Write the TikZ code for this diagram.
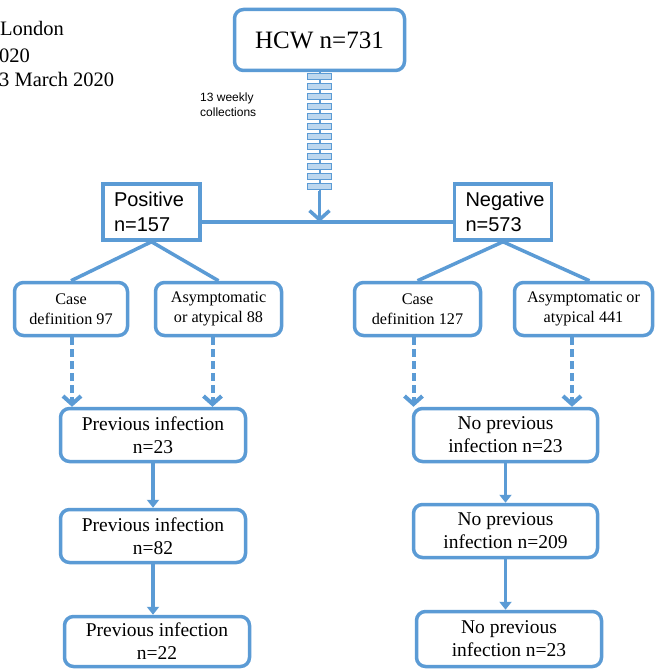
\documentclass[tikz,border=0pt]{standalone}
\usepackage{fontspec}
\setmainfont{Liberation Serif}
\setsansfont{Liberation Sans}
\usetikzlibrary{arrows.meta}
\definecolor{hblue}{RGB}{91,155,213}
\definecolor{hlight}{RGB}{189,215,238}
\begin{document}
\begin{tikzpicture}[x=1pt,y=-1pt,
  rbox/.style={draw=hblue, line width=3.5pt, rounded corners=9pt, align=center, inner sep=0pt, fill=white, minimum height=53pt},
  casefont/.style={font=\fontsize{16.2}{19.5}\selectfont},
  prevfont/.style={font=\fontsize{19.5}{23}\selectfont},
  sbox/.style={draw=hblue, line width=3.5pt, align=left, inner xsep=11pt, inner ysep=0pt, text width=75pt, minimum height=56pt, font=\sffamily\fontsize{20}{25}\selectfont},
  conn/.style={draw=hblue, line width=3.5pt},
  dasharrow/.style={draw=hblue, line width=4pt, dash pattern=on 8pt off 4pt, -{Straight Barb[length=8pt,width=18pt]}},
  bigarrow/.style={conn, -{Straight Barb[length=9pt,width=20pt]}},
  smallarrow/.style={conn, -{Triangle[length=8pt,width=12pt]}},
  wk/.style={draw=hblue, fill=hlight, line width=1.2pt, minimum width=24pt, minimum height=6pt, inner sep=0pt},
  toptext/.style={anchor=base west, inner sep=0pt, font=\fontsize{20.5}{24}\selectfont}
]
\fill[white] (0,0) rectangle (656,671);
\useasboundingbox (0,0) rectangle (656,671);

% top-left text
\node[toptext] (t1) at (0,36) {London};
\node[toptext] (t2) at (-1,63) {020};
\node[toptext] (t3) at (-1,87) {3 March 2020};

% HCW
\node[rbox, minimum width=170pt, minimum height=61pt, font=\fontsize{25}{30}\selectfont] (hcw) at (319.5,40) {HCW n=731};

% weekly collections stack
\coordinate (sb) at (319.5,191);
\coordinate (j) at (319.5,222);
\draw[hblue, line width=2pt] (hcw.south) -- (sb);
\foreach \i in {1,...,12} {
  \node[wk] (w\i) at (319.5,{76.5+10*(\i-1)}) {};
}
\node[anchor=north west, inner sep=0pt, align=left, font=\sffamily\fontsize{12}{15}\selectfont] (lab) at (200,93) {13 weekly\\collections};
\draw[bigarrow] (sb) -- (j);

% Positive / Negative
\node[sbox] (pos) at (151.5,212) {Positive\\n=157};
\node[sbox] (neg) at (503,212) {Negative\\n=573};
\draw[conn] ([yshift=-10pt]pos.east) -- ([yshift=-10pt]neg.west);

% second level
\node[rbox, casefont, minimum width=113pt] (c97) at (71,309) {Case\\definition 97};
\node[rbox, casefont, minimum width=126pt] (a88) at (218.5,309) {Asymptomatic\\or atypical 88};
\node[rbox, casefont, minimum width=126pt] (c127) at (417.5,309) {Case\\definition 127};
\node[rbox, casefont, minimum width=138pt] (a441) at (583.5,309) {Asymptomatic or\\atypical 441};

\draw[conn] (pos.south) -- (c97.north);
\draw[conn] (pos.south) -- (a88.north);
\draw[conn] (neg.south) -- (c127.north);
\draw[conn] (neg.south) -- ([xshift=6pt]a441.north);

% third level
\node[rbox, prevfont, minimum width=185pt] (p23) at (153,435) {Previous infection\\n=23};
\node[rbox, prevfont, minimum width=185pt] (p82) at (153,536) {Previous infection\\n=82};
\node[rbox, prevfont, minimum width=185pt, minimum height=50pt] (p22) at (157,641.5) {Previous infection\\n=22};
\node[rbox, prevfont, minimum width=184pt] (n23) at (505.5,435) {No previous\\infection n=23};
\node[rbox, prevfont, minimum width=184pt] (n209) at (505.5,531) {No previous\\infection n=209};
\node[rbox, prevfont, minimum width=185pt, minimum height=55pt] (n23b) at (509,639) {No previous\\infection n=23};

\draw[dasharrow] ([xshift=1pt]c97.south) -- ([xshift=1pt]c97.south |- p23.north);
\draw[dasharrow] ([xshift=-6pt]a88.south) -- ([xshift=-6pt]a88.south |- p23.north);
\draw[dasharrow] ([xshift=-4pt]c127.south) -- ([xshift=-4pt]c127.south |- n23.north);
\draw[dasharrow] ([xshift=-11.5pt]a441.south) -- ([xshift=-11.5pt]a441.south |- n23.north);

\draw[smallarrow] (p23.south) -- (p82.north);
\draw[smallarrow] (p82.south) -- (p82.south |- p22.north);
\draw[smallarrow] (n23.south) -- (n209.north);
\draw[smallarrow] (n209.south) -- (n209.south |- n23b.north);
\end{tikzpicture}
\end{document}
